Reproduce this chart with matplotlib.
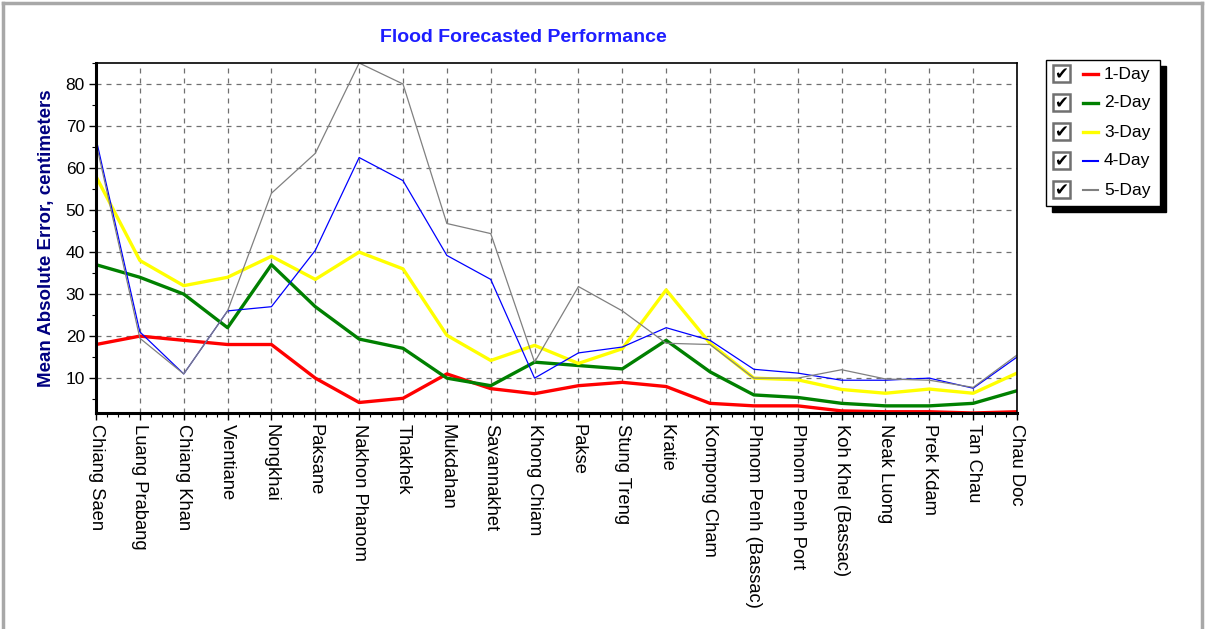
import matplotlib as mpl
mpl.use('Agg')
import matplotlib.pyplot as plt
from matplotlib.patches import Rectangle
from matplotlib.lines import Line2D
from matplotlib.ticker import MultipleLocator

stations = ["Chiang Saen", "Luang Prabang", "Chiang Khan", "Vientiane", "Nongkhai",
            "Paksane", "Nakhon Phanom", "Thakhek", "Mukdahan", "Savannakhet",
            "Khong Chiam", "Pakse", "Stung Treng", "Kratie", "Kompong Cham",
            "Phnom Penh (Bassac)", "Phnom Penh Port", "Koh Khel (Bassac)",
            "Neak Luong", "Prek Kdam", "Tan Chau", "Chau Doc"]

day1 = [18, 20, 19, 18, 18, 10, 4.2, 5.2, 11, 7.5, 6.3, 8.2, 9, 8,
        4, 3.4, 3.4, 2.2, 2, 2, 1.7, 2]
day2 = [37, 34, 30, 22, 37, 27, 19.3, 17.1, 10, 8.2, 13.8, 13, 12.2, 19,
        11.5, 6, 5.4, 4, 3.4, 3.4, 4, 7]
day3 = [58, 38, 32, 34, 39, 33.5, 40, 36, 20.2, 14.2, 17.8, 13.5, 17, 31,
        18.3, 10, 9.6, 7.3, 6.4, 7.4, 6.4, 11.2]
day4 = [67, 21, 11, 26, 27, 40.4, 62.5, 57, 39.2, 33.5, 10, 16, 17.4, 22,
        19, 12.1, 11.2, 9.5, 9.5, 10, 7.6, 15]
day5 = [66, 19.5, 11, 26, 54, 63.5, 85, 80, 46.8, 44.4, 13.8, 31.8, 26, 18.3,
        18, 10, 10, 12, 9.8, 9.5, 7.8, 15.5]

series = [day1, day2, day3, day4, day5]
names = ["1-Day", "2-Day", "3-Day", "4-Day", "5-Day"]
colors = ["#FF0000", "#008000", "#FFFF00", "#0000FF", "#808080"]
widths = [2.4, 2.4, 2.4, 0.9, 0.9]

W, H = 1205, 629


def fx(px):
    return px / W


def fy(py):
    return 1 - py / H


plt.rcParams['font.family'] = ['Liberation Sans', 'DejaVu Sans']

fig = plt.figure(figsize=(W / 100, H / 100), dpi=100)
fig.patch.set_facecolor('white')
ax = fig.add_axes([fx(96), fy(413), fx(1017) - fx(96), fy(63) - fy(413)])

x = list(range(len(stations)))
for vals, name, c, lw in zip(series, names, colors, widths):
    ax.plot(x, vals, color=c, lw=lw, label=name, solid_joinstyle='round')

ax.set_xlim(0, len(stations) - 1)
ax.set_ylim(1.7, 85)
ax.set_xticks(x)
ax.set_xticklabels(stations, rotation=270, fontsize=13.2, va='top', ha='center')
ax.xaxis.set_minor_locator(MultipleLocator(0.25))
ax.set_yticks(range(10, 81, 10))
ax.yaxis.set_minor_locator(MultipleLocator(5))
ax.tick_params(axis='y', labelsize=12.5, length=5, width=1, pad=3)
ax.tick_params(axis='x', length=5, width=1, pad=3)
ax.tick_params(which='minor', length=3, width=0.8)
ax.grid(True, which='major', color='#707070', ls=(0, (4, 4)), lw=0.9)
ax.set_axisbelow(True)
for s in ['left', 'bottom']:
    ax.spines[s].set_linewidth(2.2)
for s in ['top', 'right']:
    ax.spines[s].set_linewidth(1.2)

fig.text(fx(523), fy(38), "Flood Forecasted Performance", color='#1E1EFF',
         fontsize=14, fontweight='bold', ha='center', va='center')
fig.text(fx(47), fy(238), "Mean Absolute Error, centimeters", color='#000080',
         fontsize=13.5, fontweight='bold', rotation=90, ha='center', va='center')

# window frame
fig.add_artist(Line2D([fx(3), fx(1202)], [fy(3), fy(3)], color='#A8A8A8', lw=2.5))
fig.add_artist(Line2D([fx(3), fx(3)], [fy(3), fy(629)], color='#A8A8A8', lw=2.5))
fig.add_artist(Line2D([fx(1202), fx(1202)], [fy(3), fy(629)], color='#A8A8A8', lw=2.5))

# legend with check boxes
bx0, by0, bx1, by1 = 1046, 60, 1160, 206
fig.add_artist(Rectangle((fx(bx0 + 6), fy(by1 + 6)), fx(bx1 - bx0), fy(by0) - fy(by1),
                         facecolor='black', edgecolor='black'))
fig.add_artist(Rectangle((fx(bx0), fy(by1)), fx(bx1 - bx0), fy(by0) - fy(by1),
                         facecolor='white', edgecolor='black', lw=1))
for i, (name, c, lw) in enumerate(zip(names, colors, widths)):
    yc = 74 + i * 29
    fig.add_artist(Rectangle((fx(1053), fy(yc + 8)), fx(17), fy(0) - fy(17),
                             facecolor='white', edgecolor='#707070', lw=1.8))
    fig.text(fx(1061.5), fy(yc + 0.5), "\u2714", fontsize=12, ha='center', va='center',
             color='black', family='DejaVu Sans')
    fig.add_artist(Line2D([fx(1083), fx(1098)], [fy(yc), fy(yc)], color=c,
                          lw=max(lw, 1.5)))
    fig.text(fx(1104), fy(yc), name, fontsize=12.5, ha='left', va='center')

fig.savefig('out.png', dpi=100)
